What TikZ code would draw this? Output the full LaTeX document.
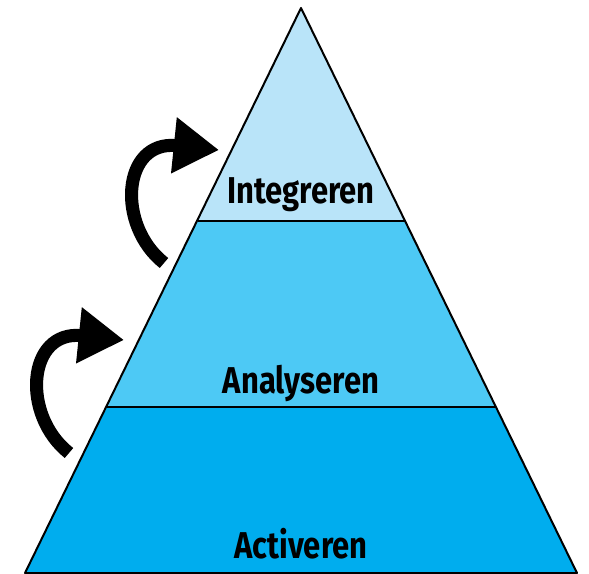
\documentclass[tikz,border=0pt]{standalone}
\usepackage{fontspec}
\usetikzlibrary{arrows.meta}
\newfontfamily\tierfont[FakeStretch=0.83]{Fira Sans}
\definecolor{tiertop}{HTML}{B9E4F9}
\definecolor{tiermid}{HTML}{4DC9F5}
\definecolor{tierlow}{HTML}{00ADEE}
\tikzset{%
    tier/.style={draw=black, line width=1.5pt, line join=round},
    tiername/.style={anchor=base, inner sep=0pt,
        font=\tierfont\bfseries\fontsize{28}{28}\selectfont},
    steparrow/.style={line width=9.8pt,
        -{Triangle[length=34pt, width=40pt]}}
}

\begin{document}
\begin{tikzpicture}[x=0.75pt, y=-0.75pt]
	\useasboundingbox [fill=white] (0,0) rectangle (589,574);
	\coordinate (top) at (301,8);
	\coordinate (ul) at (197.5,221);
	\coordinate (ur) at (404.5,221);
	\coordinate (ml) at (107,407);
	\coordinate (mr) at (495,407);
	\coordinate (bl) at (25,573);
	\coordinate (br) at (577,573);
	\fill [tiertop] (top) -- (ur) -- (ul) -- cycle;
	\fill [tiermid] (ul) -- (ur) -- (mr) -- (ml) -- cycle;
	\fill [tierlow] (ml) -- (mr) -- (br) -- (bl) -- cycle;
	\draw [tier] (top) -- (br) -- (bl) -- cycle;
	\draw [tier] (ul) -- (ur);
	\draw [tier] (ml) -- (mr);
	\node [tiername] (integreren) at (301,204) {Integreren};
	\node [tiername] (analyseren) at (301,393) {Analyseren};
	\node [tiername] (activeren) at (301,558) {Activeren};
	\coordinate (a1) at (164,263);
	\coordinate (a1tip) at (219,150);
	\coordinate (a2) at (69,453);
	\coordinate (a2tip) at (124,340);
	\draw [steparrow] (a1) .. controls (116,225) and (122,140) .. (a1tip);
	\draw [steparrow] (a2) .. controls (21,415) and (27,330) .. (a2tip);
\end{tikzpicture}
\end{document}
